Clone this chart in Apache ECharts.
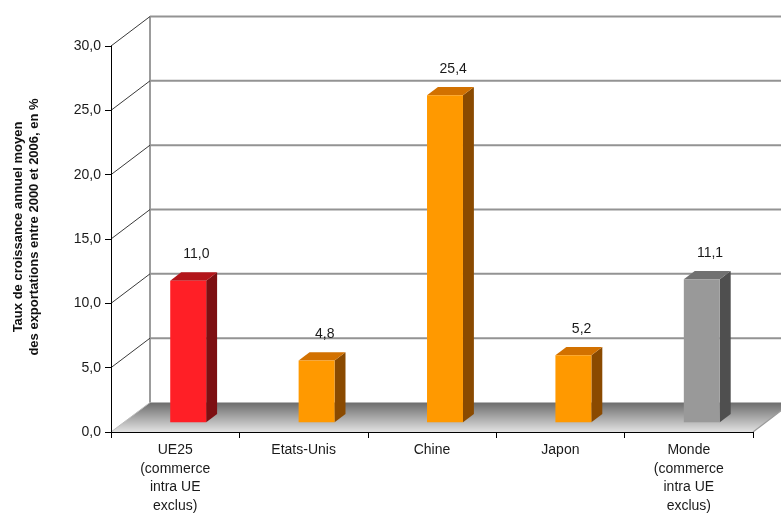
<!DOCTYPE html>
<html>
<head>
<meta charset="utf-8">
<script src="https://cdn.jsdelivr.net/npm/echarts@6/dist/echarts.min.js"></script>
<style>
  html, body { margin: 0; padding: 0; background: #fff; overflow: hidden; }
  #chart { width: 781px; height: 515px; }
</style>
</head>
<body>
<div id="chart"></div>
<script>
// Average annual export growth 2000-2006, in %
const categories = [
  'UE25\n(commerce\nintra UE\nexclus)',
  'Etats-Unis',
  'Chine',
  'Japon',
  'Monde\n(commerce\nintra UE\nexclus)'
];
const growth = [11.0, 4.8, 25.4, 5.2, 11.1];
const yTicks = [0, 5, 10, 15, 20, 25, 30];
const yTitle = 'Taux de croissance annuel moyen\ndes exportations entre 2000 et 2006, en %';

// Face colours of each bar: front, side, top
const frontColors = ['#ff1f26', '#ff9900', '#ff9900', '#ff9900', '#999999'];
const sideColors  = ['#7d0f12', '#8a4a00', '#8a4a00', '#8a4a00', '#4f4f4f'];
const topColors   = ['#b3151a', '#d27100', '#d27100', '#d27100', '#717171'];

// Oblique projection of the depth axis
const DX = 39, DY = -29.5;
const BAR_FRONT = 1 / 3;   // depth where bars start
const BAR_DEPTH = 0.28;    // depth of each bar
const FONT = "'Liberation Sans', Arial, sans-serif";

const fmt = v => v.toFixed(1).replace('.', ',');

const chart = echarts.init(document.getElementById('chart'), null, {
  renderer: 'canvas', width: 781, height: 515
});

function renderWalls(params, api) {
  const v = api.value(0);
  const cs = params.coordSys;
  const left = cs.x, right = cs.x + cs.width;
  const y = api.coord([0, v])[1];
  const children = [];
  if (v === 0) {
    children.push({
      type: 'polygon',
      shape: { points: [[left, y], [left + DX, y + DY], [right + DX, y + DY], [right, y]] },
      style: {
        fill: new echarts.graphic.LinearGradient(0, 0, 0, 1, [
          { offset: 0, color: '#6c6c6c' },
          { offset: 1, color: '#e2e2e2' }
        ])
      }
    });
    // floor edges
    children.push({ type: 'line', shape: { x1: left, y1: y, x2: left + DX, y2: y + DY },
      style: { stroke: '#bdbdbd', lineWidth: 1 } });
    children.push({ type: 'line', shape: { x1: right, y1: y, x2: right + DX, y2: y + DY },
      style: { stroke: '#9a9a9a', lineWidth: 1.2 } });
    // back wall vertical edge
    const yTop = api.coord([0, yTicks[yTicks.length - 1]])[1];
    children.push({ type: 'line', shape: { x1: left + DX, y1: y + DY, x2: left + DX, y2: yTop + DY },
      style: { stroke: '#9c9c9c', lineWidth: 2 } });
  } else {
    children.push({ type: 'line', shape: { x1: left + DX, y1: y + DY, x2: right + DX, y2: y + DY },
      style: { stroke: '#939393', lineWidth: 2 } });
    children.push({ type: 'line', shape: { x1: left, y1: y, x2: left + DX, y2: y + DY },
      style: { stroke: '#3a3a3a', lineWidth: 1 } });
  }
  return { type: 'group', children };
}

function renderBar(params, api) {
  const idx = api.value(0);
  const val = api.value(1);
  const base = api.coord([idx, 0]);
  const top = api.coord([idx, val]);
  const band = api.size([1, 0])[0];
  const hw = band * 0.14;
  const cx = base[0] + DX * BAR_FRONT;
  const by = base[1] + DY * BAR_FRONT;
  const ty = top[1] + DY * BAR_FRONT;
  const ddx = DX * BAR_DEPTH, ddy = DY * BAR_DEPTH;
  const i = params.dataIndex;
  return {
    type: 'group',
    children: [
      { type: 'polygon',
        shape: { points: [[cx + hw, ty], [cx + hw + ddx, ty + ddy], [cx + hw + ddx, by + ddy], [cx + hw, by]] },
        style: { fill: sideColors[i] } },
      { type: 'polygon',
        shape: { points: [[cx - hw, ty], [cx - hw + ddx, ty + ddy], [cx + hw + ddx, ty + ddy], [cx + hw, ty]] },
        style: { fill: topColors[i] } },
      { type: 'rect',
        shape: { x: cx - hw, y: ty, width: hw * 2, height: by - ty },
        style: { fill: frontColors[i] } },
      { type: 'text',
        x: cx + ddx * 0.75, y: ty + ddy - 11,
        style: { text: fmt(val), align: 'center', verticalAlign: 'bottom',
                 font: '14px ' + FONT, fill: '#1a1a1a' } }
    ]
  };
}

chart.setOption({
  animation: false,
  backgroundColor: '#ffffff',
  grid: { left: 111, width: 642, top: 46, height: 389, containLabel: false },
  xAxis: {
    type: 'category',
    data: categories,
    z: 6,
    axisLine: { lineStyle: { color: '#000', width: 1 } },
    axisTick: { show: true, length: 6, lineStyle: { color: '#000' } },
    axisLabel: {
      interval: 0, margin: 9, fontSize: 14, lineHeight: 18.5,
      fontFamily: FONT, color: '#1a1a1a', align: 'center'
    },
    splitLine: { show: false }
  },
  yAxis: {
    type: 'value',
    min: 0, max: 30, interval: 5,
    z: 6,
    axisLine: { show: true, lineStyle: { color: '#000', width: 1 } },
    axisTick: { show: true, length: 6, lineStyle: { color: '#000' } },
    axisLabel: { margin: 10, fontSize: 14, fontFamily: FONT, color: '#1a1a1a', formatter: v => fmt(v) },
    splitLine: { show: false }
  },
  graphic: [{
    type: 'text',
    x: 26, y: 227,
    rotation: Math.PI / 2,
    style: {
      text: yTitle, align: 'center', verticalAlign: 'middle',
      font: 'bold 13px ' + FONT, fill: '#111', lineHeight: 16
    }
  }],
  series: [
    {
      type: 'custom',
      z: 1,
      silent: true,
      renderItem: renderWalls,
      encode: { y: 0 },
      data: yTicks.map(v => [v])
    },
    {
      type: 'custom',
      z: 3,
      renderItem: renderBar,
      encode: { x: 0, y: 1 },
      data: growth.map((v, i) => [i, v])
    }
  ]
});
</script>
</body>
</html>
